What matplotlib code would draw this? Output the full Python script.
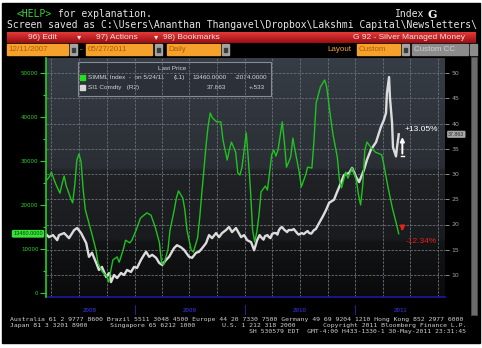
import numpy as np
import pandas as pd
import matplotlib
matplotlib.use("Agg")
import matplotlib.pyplot as plt
import matplotlib.dates as mdates
import matplotlib.transforms as mtrans
from matplotlib.patches import Rectangle

W, H = 482, 348

# first observation date; weekly / daily offsets are counted from here
start = pd.Timestamp("2008-03-11")

# SIMML Index - silver managed money net long (weekly, left axis)
mm_week = [0, 2, 3, 4, 5, 7, 8, 9, 10, 11, 12, 13, 14, 15, 16, 17, 18, 19, 22, 24,
           25, 27, 29, 30, 31, 32, 34, 35, 37, 38, 40, 41, 43, 45, 48, 50, 52, 54, 55, 56,
           58, 59, 61, 62, 63, 65, 66, 67, 69, 70, 71, 72, 73, 74, 75, 76, 77, 78, 79, 81,
           83, 84, 86, 87, 88, 90, 91, 92, 93, 94, 95, 96, 97, 98, 99, 100, 101, 102, 104, 105,
           106, 107, 108, 109, 110, 112, 113, 114, 116, 117, 118, 120, 121, 123, 124, 126, 127, 128, 130, 132,
           133, 135, 136, 138, 139, 140, 142, 143, 145, 147, 148, 149, 150, 151, 152, 154, 156, 159, 160, 162,
           164, 166, 167]
mm_value = [25200, 26400, 27500, 26100, 24800, 22700, 24800, 26600, 24300, 23000, 21600, 20500, 24500, 30200, 31600, 29800, 23400, 18900, 13600, 9800,
            6800, 4800, 3900, 2500, 5000, 7500, 8200, 7000, 10000, 12000, 11400, 12000, 14300, 17000, 18200, 17700, 15000, 11400, 6800, 6400,
            9800, 14300, 18900, 21600, 23200, 21600, 18900, 14300, 9800, 9300, 10900, 12500, 17000, 22700, 28000, 33500, 38000, 40900, 39800, 38900,
            38900, 34800, 30200, 32500, 34300, 32000, 27300, 26800, 28600, 32500, 36400, 30200, 23400, 14300, 11600, 13900, 17700, 23000, 24300, 23400,
            27300, 31400, 32500, 31100, 32500, 38900, 34300, 28600, 30900, 35200, 32500, 27500, 24100, 26800, 28600, 28400, 34800, 43200, 46800, 48400,
            46800, 39300, 35900, 30900, 25700, 23900, 27500, 26100, 28400, 25700, 22300, 20000, 24500, 32500, 34300, 33000, 32000, 31400, 29100, 23900,
            19300, 15534, 13460]

# SI1 Comdty - front month silver, USD/oz (right axis)
si_day = [3, 13, 26, 40, 46, 63, 79, 96, 106, 119, 136, 145, 155, 169, 178, 188, 202, 212, 218, 228,
          238, 251, 261, 271, 284, 294, 304, 317, 327, 334, 344, 354, 367, 377, 387, 400, 410, 426, 436, 449,
          459, 476, 486, 499, 509, 519, 532, 542, 552, 565, 575, 585, 598, 608, 618, 631, 648, 658, 668, 681,
          691, 701, 709, 717, 722, 727, 735, 740, 745, 750, 757, 763, 768, 773, 778, 783, 790, 800, 805, 816,
          822, 833, 838, 849, 855, 863, 868, 873, 880, 889, 895, 906, 919, 929, 939, 955, 965, 972, 988, 1005,
          1015, 1028, 1038, 1054, 1064, 1077, 1094, 1110, 1120, 1127, 1130, 1137, 1140, 1147, 1150, 1160, 1164, 1168,
          1169]
si_price = [18.1, 17.5, 17.9, 16.9, 17.9, 18.3, 17.3, 18.9, 19.3, 18.3, 16.3, 13.6, 14.4, 12.4, 11.0, 11.6, 9.6, 10.4, 8.6, 10.0,
            9.4, 10.4, 10.0, 11.0, 10.6, 11.6, 11.4, 13.0, 14.0, 14.6, 13.6, 14.0, 13.4, 12.4, 12.0, 13.0, 13.6, 15.3, 15.9, 15.5,
            15.0, 13.6, 13.4, 14.4, 14.6, 15.3, 16.3, 17.9, 17.3, 18.3, 17.5, 18.3, 18.9, 19.5, 18.5, 19.3, 17.5, 17.9, 16.9, 16.5,
            14.9, 16.9, 17.9, 17.3, 17.0, 17.7, 17.9, 17.5, 17.3, 18.1, 18.3, 18.3, 18.0, 18.9, 19.3, 19.5, 19.0, 18.5, 18.9, 18.9,
            19.1, 18.3, 18.0, 18.3, 18.1, 18.5, 18.7, 18.3, 18.2, 18.9, 19.1, 20.3, 21.7, 22.9, 24.3, 24.9, 26.4, 27.4, 29.8, 30.2,
            31.2, 29.4, 28.4, 30.8, 32.8, 34.8, 36.3, 39.3, 40.7, 42.1, 46.0, 49.2, 45.2, 40.1, 35.3, 33.49, 35.6, 37.33,
            37.863]

years = [2008, 2009, 2010, 2011]

mm_dates = start + pd.to_timedelta(np.array(mm_week) * 7, unit="D")
si_dates = start + pd.to_timedelta(np.array(si_day), unit="D")
x0 = pd.Timestamp("2008-03-14")
x1 = x0 + pd.Timedelta(days=1319)

fig = plt.figure(figsize=(W / 100, H / 100), dpi=100, facecolor="white")

# pixel-space canvas for the terminal frame
bg = fig.add_axes([0, 0, 1, 1])
bg.set_xlim(0, W)
bg.set_ylim(H, 0)
bg.axis("off")
bg.add_patch(Rectangle((2, 3), 478, 340, color="black"))

mono = "DejaVu Sans Mono"
sans = ["Liberation Sans", "DejaVu Sans"]

bg.text(17, 14, "<HELP>", color="#3fcf3f", family=mono, fontsize=7, va="center")
bg.text(52, 14, " for explanation.", color="#e6e6e6", family=mono, fontsize=7, va="center")
bg.text(395, 14, "Index", color="#e6e6e6", family=mono, fontsize=7, va="center")
bg.text(428, 14, "G", color="#f0f0f0", family="DejaVu Serif", fontsize=8, weight="bold", va="center")
bg.text(7, 25, r"Screen saved as C:\Users\Ananthan Thangavel\Dropbox\Lakshmi Capital\Newsletters" + "\\",
        color="#e6e6e6", family=mono, fontsize=7, va="center")

# red menu bar
bar = np.linspace(0, 1, 12)[:, None, None]
top_c = np.array([0.88, 0.22, 0.22])
bot_c = np.array([0.62, 0.06, 0.07])
bg.imshow(top_c * (1 - bar) + bot_c * bar, extent=(7, 476, 43, 32), aspect="auto", zorder=1)
for x, s in [(28, "96) Edit"), (77, "\u25be"), (96, "97) Actions"), (154, "\u25be"), (163, "98) Bookmarks")]:
    bg.text(x, 37.5, s, color="#f6e0e0", family=sans, fontsize=6, va="center", zorder=2)
bg.text(465, 37.5, "G 92 - Silver Managed Money", color="#f6e0e0", family=sans, fontsize=6,
        va="center", ha="right", zorder=2)

# date / layout field row
orange = "#f4a22c"
def field(x, w, label, fc=orange, tc="#b45a06"):
    bg.add_patch(Rectangle((x, 44), w, 11, color=fc, zorder=1))
    if label:
        bg.text(x + 1.5, 49.7, label, color=tc, family=sans, fontsize=5.8, va="center", zorder=2)

def button(x):
    bg.add_patch(Rectangle((x, 44), 7, 11, color="#a4a4a4", zorder=1))
    bg.add_patch(Rectangle((x + 2, 47.5), 3, 4, color="#3c3c3c", zorder=2))

field(7, 61, "12/11/2007")
button(70)
bg.text(80, 49.5, "-", color=orange, family=sans, fontsize=6, va="center")
field(86, 66, "05/27/2011")
button(155)
field(167, 53, "Daily")
button(222)
bg.text(327, 49.7, "Layout", color=orange, family=sans, fontsize=5.8, va="center")
field(357, 43, "Custom")
button(402)
field(412, 56, "Custom CC", fc="#8c8c8c", tc="#cfcfcf")
bg.add_patch(Rectangle((470, 44), 7, 11, color="#8c8c8c", zorder=1))

# scroll bar on the right
bg.add_patch(Rectangle((471, 57), 6, 258, fc="#6c6c6c", ec="#4a4a4a", lw=0.6))

# plot background gradient
pl, pr, pt, pb = 46, 445, 58, 297
rows = np.linspace(0, 1, 240)
stops = [(0.0, (0.215, 0.240, 0.275)), (0.46, (0.165, 0.180, 0.205)),
         (0.47, (0.125, 0.135, 0.150)), (0.76, (0.100, 0.105, 0.115)),
         (0.77, (0.075, 0.078, 0.082)), (1.0, (0.040, 0.040, 0.045))]
grad = np.stack([np.interp(rows, [s[0] for s in stops], [s[1][k] for s in stops]) for k in range(3)], axis=-1)
bg.imshow(grad[:, None, :], extent=(pl, pr, pb, pt), aspect="auto", zorder=1)

# footer
foot = dict(color="#cfcfcf", family=mono, fontsize=4.65, va="center")
bg.text(10, 319, "Australia 61 2 9777 8600 Brazil 5511 3048 4500 Europe 44 20 7330 7500 Germany 49 69 9204 1210 Hong Kong 852 2977 6000", **foot)
bg.text(10, 325.5, "Japan 81 3 3201 8900", **foot)
bg.text(110, 325.5, "Singapore 65 6212 1000", **foot)
bg.text(222, 325.5, "U.S. 1 212 318 2000", **foot)
bg.text(466, 325.5, "Copyright 2011 Bloomberg Finance L.P.", ha="right", **foot)
bg.text(466, 332, "SH 530579 EDT  GMT-4:00 H433-1330-1 30-May-2011 23:31:45", ha="right", **foot)

# chart axes
ax2 = fig.add_axes([pl / W, 1 - pb / H, (pr - pl) / W, (pb - pt) / H])
ax2.patch.set_visible(False)
ax1 = ax2.twinx()
ax1.yaxis.tick_left()
ax1.yaxis.set_label_position("left")
ax2.yaxis.tick_right()

ax2.plot(si_dates, si_price, color="#dcdcdc", lw=1.7, solid_joinstyle="round", zorder=3)
ax1.plot(mm_dates, mm_value, color="#1fc21f", lw=1.0, zorder=3)

ax2.set_xlim(x0, x1)
ax2.set_ylim(10 - 22 / 5.05, 10 + 217 / 5.05)
ax1.set_ylim(-4 / 0.0044, 235 / 0.0044)

ax2.set_yticks(np.arange(10, 51, 5))
ax1.set_yticks(np.arange(0, 50001, 10000))
ax1.set_yticks(np.arange(5000, 50000, 10000), minor=True)
ax2.xaxis.set_major_locator(mdates.MonthLocator(bymonth=[1, 4, 7, 10]))
ax2.xaxis.set_major_formatter(plt.NullFormatter())
ax2.grid(True, color="#6b7078", lw=0.6, ls=(0, (3, 1.5)))
ax2.tick_params(axis="x", length=0)
ax2.tick_params(axis="y", colors="#a2a2a2", labelsize=4.5, length=3, width=0.6, pad=1.5)
ax1.tick_params(axis="y", which="both", colors="#2cd42c", labelsize=4, width=0.8, pad=1.5)
ax1.tick_params(axis="y", which="major", length=4)
ax1.tick_params(axis="y", which="minor", length=2.5)

for a in (ax1, ax2):
    for sp in a.spines.values():
        sp.set_visible(False)
ax1.spines["left"].set_visible(True)
ax1.spines["left"].set_color("#22d022")
ax1.spines["left"].set_linewidth(1.2)
ax2.spines["bottom"].set_visible(True)
ax2.spines["bottom"].set_color("#1a1aa0")
ax2.spines["bottom"].set_linewidth(1.2)

# year labels and dividers under the axis
xy = mtrans.blended_transform_factory(ax2.transData, ax2.transAxes)
for yr in years:
    a = max(pd.Timestamp(f"{yr}-01-01"), x0)
    b = min(pd.Timestamp(f"{yr + 1}-01-01"), x1)
    ax2.text(a + (b - a) / 2, -0.055, str(yr), transform=xy, ha="center", va="center",
             color="#2a2ab4", fontsize=4.5, family=sans, weight="bold", clip_on=False)
    if yr > years[0]:
        ax2.plot([a, a], [-0.035, -0.07], transform=xy, color="#2a2ab4", lw=0.6, clip_on=False)

# last value tags
yl = mtrans.blended_transform_factory(ax1.transAxes, ax1.transData)
ax1.text(-0.008, mm_value[-1], f"{mm_value[-1]:.4f}", transform=yl, ha="right", va="center",
         fontsize=4, color="#0a3c0a", family=sans, clip_on=False,
         bbox=dict(boxstyle="round,pad=0.25", fc="#38e238", ec="none"))
yr2 = mtrans.blended_transform_factory(ax2.transAxes, ax2.transData)
ax2.text(1.008, si_price[-1], f"{si_price[-1]:.3f}", transform=yr2, ha="left", va="center",
         fontsize=3.8, color="#2a2a2a", family=sans, clip_on=False,
         bbox=dict(boxstyle="round,pad=0.2", fc="#a8a8a8", ec="none"))

# move annotations
arr_x = start + pd.Timedelta(days=1181)
lo = 33.49
ax2.annotate("", xy=(arr_x, si_price[-1]), xytext=(arr_x, lo),
             arrowprops=dict(arrowstyle="-|>", color="white", lw=1.4, mutation_scale=6), zorder=5)
ax2.plot([arr_x - pd.Timedelta(days=4), arr_x + pd.Timedelta(days=4)], [lo, lo], color="white", lw=1.0, zorder=5)
ax2.text(arr_x + pd.Timedelta(days=8), 38.9, "+13.05%", color="white", fontsize=6, family=sans,
         va="center", zorder=5)

hi = 15355
ax1.annotate("", xy=(arr_x, mm_value[-1]), xytext=(arr_x, hi),
             arrowprops=dict(arrowstyle="-|>", color="#e82020", lw=1.4, mutation_scale=6), zorder=5)
ax1.plot([arr_x - pd.Timedelta(days=4), arr_x + pd.Timedelta(days=4)], [hi, hi], color="#e82020", lw=1.0, zorder=5)
ax1.text(arr_x + pd.Timedelta(days=10), 11600, "-12.34%", color="#e82020", fontsize=6, family=sans,
         va="center", zorder=5)

# legend box
bg.add_patch(Rectangle((78, 62), 193, 34, fc="#2c3139", ec="#8e939a", lw=0.8, alpha=0.95, zorder=3))
lt = dict(color="#d4d4d4", family=sans, fontsize=4.6, va="center", zorder=4)
bg.text(158, 69, "Last Price", **lt)
bg.add_patch(Rectangle((80, 74.5), 5, 5, color="#22e022", zorder=4))
bg.add_patch(Rectangle((80, 84.5), 5, 5, color="#d8d8d8", zorder=4))
bg.text(88, 77.5, "SIMML Index  -  on 5/24/11", **lt)
bg.text(174, 77.5, "(L1)", **lt)
bg.text(192, 77.5, f"{mm_value[-1]:.4f}", **lt)
bg.text(235, 77.5, f"{mm_value[-1] - mm_value[-2]:.4f}", **lt)
bg.text(88, 87.5, "SI1 Comdty   (R2)", **lt)
bg.text(207, 87.5, f"{si_price[-1]:.3f}", **lt)
bg.text(249, 87.5, "+.533", **lt)

fig.savefig("out.png", dpi=100, facecolor=fig.get_facecolor())
